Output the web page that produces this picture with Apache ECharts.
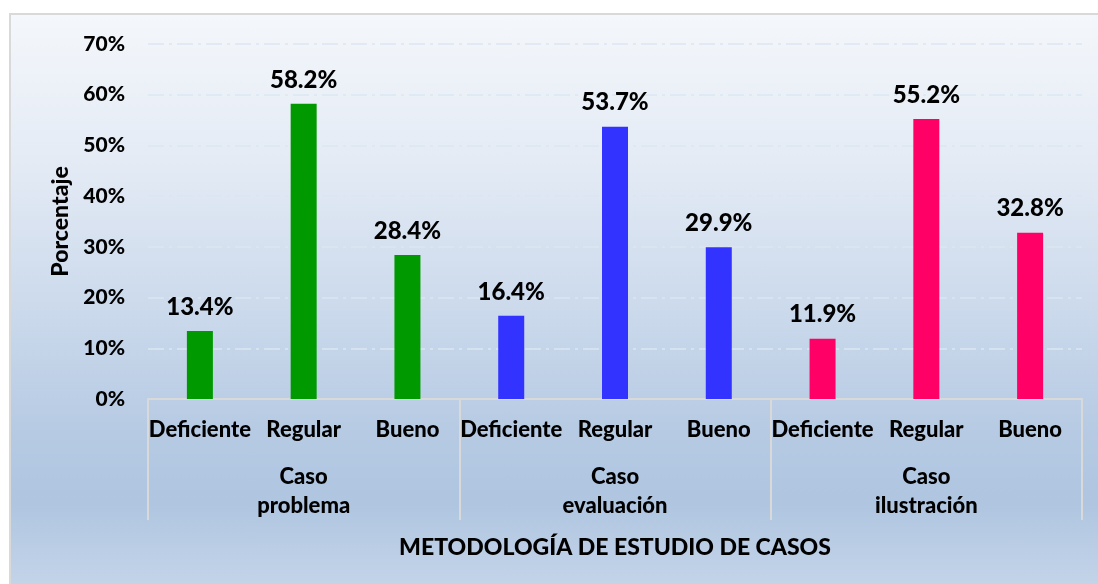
<!DOCTYPE html>
<html>
<head>
<meta charset="utf-8">
<script src="https://cdn.jsdelivr.net/npm/echarts@6/dist/echarts.min.js"></script>
<style>
  html, body { margin: 0; padding: 0; background: #ffffff; }
  #wrap { position: relative; width: 1098px; height: 584px; overflow: hidden; background: #ffffff; }
  #bg { position: absolute; left: 9px; top: 13px; width: 1100px; height: 580px;
        border: 2px solid #D9D9D9;
        background: linear-gradient(to bottom, #F4F7FB 0%, #E4EBF5 25%, #CCDAEC 50%, #B6CAE3 72%, #AFC5E0 84%, #C6D6EA 100%); }
  #chart { position: absolute; left: 0; top: 0; width: 1098px; height: 584px; }
</style>
</head>
<body>
<div id="wrap">
  <div id="bg"></div>
  <div id="chart"></div>
</div>
<script>
const groups = ['Caso\nproblema', 'Caso\nevaluación', 'Caso\nilustración'];
const levels = ['Deficiente', 'Regular', 'Bueno'];
const casoProblema = [13.4, 58.2, 28.4];
const casoEvaluacion = [16.4, 53.7, 29.9];
const casoIlustracion = [11.9, 55.2, 32.8];
const groupColors = ['#009900', '#3333FF', '#FF0066'];
const yTicks = [0, 10, 20, 30, 40, 50, 60, 70];

const groupValues = [casoProblema, casoEvaluacion, casoIlustracion];
const categories = [];
const barData = [];
groupValues.forEach((vals, gi) => {
  vals.forEach((v, li) => {
    categories.push(levels[li]);
    barData.push({ value: v, itemStyle: { color: groupColors[gi] } });
  });
});

const FONT = 'Lato';
const W = 900;
const chart = echarts.init(document.getElementById('chart'), null, { renderer: 'canvas' });
chart.setOption({
  backgroundColor: 'transparent',
  animation: false,
  grid: { left: 148, right: 16, top: 44, bottom: 185, containLabel: false },
  xAxis: [
    {
      type: 'category',
      data: categories,
      position: 'bottom',
      axisLine: { show: true, lineStyle: { color: '#D9D9D9', width: 2 } },
      axisTick: { show: false },
      axisLabel: { color: '#000', fontFamily: FONT, fontWeight: W, fontSize: 22, margin: 20, interval: 0 },
      splitLine: { show: false }
    },
    {
      type: 'category',
      data: groups,
      position: 'bottom',
      axisLine: { show: false },
      axisTick: { show: true, length: 121, lineStyle: { color: '#D9D9D9', width: 2 } },
      axisLabel: { color: '#000', fontFamily: FONT, fontWeight: W, fontSize: 22, margin: 63, lineHeight: 29, interval: 0 },
      splitLine: { show: false },
      name: 'METODOLOGÍA DE ESTUDIO DE CASOS',
      nameLocation: 'middle',
      nameGap: 137,
      nameTextStyle: { color: '#000', fontFamily: FONT, fontWeight: W, fontSize: 23 }
    }
  ],
  yAxis: {
    type: 'value',
    min: yTicks[0],
    max: yTicks[yTicks.length - 1],
    interval: 10,
    axisLine: { show: false },
    axisTick: { show: false },
    axisLabel: { color: '#000', fontFamily: FONT, fontWeight: W, fontSize: 21, margin: 23, formatter: '{value}%' },
    splitLine: { show: true, lineStyle: { color: '#DCE6F2', width: 1.5, type: [16, 5, 3, 5] } },
    name: 'Porcentaje',
    nameLocation: 'middle',
    nameRotate: 90,
    nameGap: 76,
    nameTextStyle: { color: '#000', fontFamily: FONT, fontWeight: W, fontSize: 23 }
  },
  series: [{
    type: 'bar',
    xAxisIndex: 0,
    data: barData,
    barWidth: 26,
    label: {
      show: true,
      position: 'top',
      distance: 12,
      color: '#000',
      fontFamily: FONT,
      fontWeight: W,
      fontSize: 24,
      formatter: p => p.value.toFixed(1) + '%'
    }
  }]
});
</script>
</body>
</html>
